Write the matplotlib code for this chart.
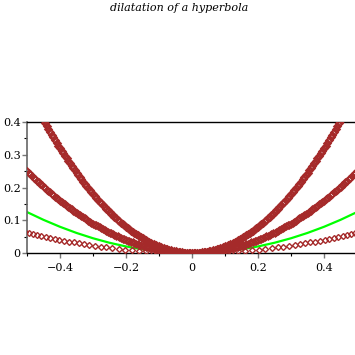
import matplotlib
matplotlib.use("Agg")
import matplotlib.pyplot as plt
from matplotlib.ticker import MultipleLocator, FixedLocator

# ---------------- data ----------------
x_fine = [
 -0.500, -0.495, -0.490, -0.485, -0.480, -0.475, -0.470, -0.465, -0.460, -0.455,
 -0.450, -0.445, -0.440, -0.435, -0.430, -0.425, -0.420, -0.415, -0.410, -0.405,
 -0.400, -0.395, -0.390, -0.385, -0.380, -0.375, -0.370, -0.365, -0.360, -0.355,
 -0.350, -0.345, -0.340, -0.335, -0.330, -0.325, -0.320, -0.315, -0.310, -0.305,
 -0.300, -0.295, -0.290, -0.285, -0.280, -0.275, -0.270, -0.265, -0.260, -0.255,
 -0.250, -0.245, -0.240, -0.235, -0.230, -0.225, -0.220, -0.215, -0.210, -0.205,
 -0.200, -0.195, -0.190, -0.185, -0.180, -0.175, -0.170, -0.165, -0.160, -0.155,
 -0.150, -0.145, -0.140, -0.135, -0.130, -0.125, -0.120, -0.115, -0.110, -0.105,
 -0.100, -0.095, -0.090, -0.085, -0.080, -0.075, -0.070, -0.065, -0.060, -0.055,
 -0.050, -0.045, -0.040, -0.035, -0.030, -0.025, -0.020, -0.015, -0.010, -0.005,
 0.000,
 0.005, 0.010, 0.015, 0.020, 0.025, 0.030, 0.035, 0.040, 0.045, 0.050,
 0.055, 0.060, 0.065, 0.070, 0.075, 0.080, 0.085, 0.090, 0.095, 0.100,
 0.105, 0.110, 0.115, 0.120, 0.125, 0.130, 0.135, 0.140, 0.145, 0.150,
 0.155, 0.160, 0.165, 0.170, 0.175, 0.180, 0.185, 0.190, 0.195, 0.200,
 0.205, 0.210, 0.215, 0.220, 0.225, 0.230, 0.235, 0.240, 0.245, 0.250,
 0.255, 0.260, 0.265, 0.270, 0.275, 0.280, 0.285, 0.290, 0.295, 0.300,
 0.305, 0.310, 0.315, 0.320, 0.325, 0.330, 0.335, 0.340, 0.345, 0.350,
 0.355, 0.360, 0.365, 0.370, 0.375, 0.380, 0.385, 0.390, 0.395, 0.400,
 0.405, 0.410, 0.415, 0.420, 0.425, 0.430, 0.435, 0.440, 0.445, 0.450,
 0.455, 0.460, 0.465, 0.470, 0.475, 0.480, 0.485, 0.490, 0.495, 0.500,
]

y_mid = [
 0.2500, 0.2450, 0.2401, 0.2352, 0.2304, 0.2256, 0.2209, 0.2162, 0.2116, 0.2070,
 0.2025, 0.1980, 0.1936, 0.1892, 0.1849, 0.1806, 0.1764, 0.1722, 0.1681, 0.1640,
 0.1600, 0.1560, 0.1521, 0.1482, 0.1444, 0.1406, 0.1369, 0.1332, 0.1296, 0.1260,
 0.1225, 0.1190, 0.1156, 0.1122, 0.1089, 0.1056, 0.1024, 0.0992, 0.0961, 0.0930,
 0.0900, 0.0870, 0.0841, 0.0812, 0.0784, 0.0756, 0.0729, 0.0702, 0.0676, 0.0650,
 0.0625, 0.0600, 0.0576, 0.0552, 0.0529, 0.0506, 0.0484, 0.0462, 0.0441, 0.0420,
 0.0400, 0.0380, 0.0361, 0.0342, 0.0324, 0.0306, 0.0289, 0.0272, 0.0256, 0.0240,
 0.0225, 0.0210, 0.0196, 0.0182, 0.0169, 0.0156, 0.0144, 0.0132, 0.0121, 0.0110,
 0.0100, 0.0090, 0.0081, 0.0072, 0.0064, 0.0056, 0.0049, 0.0042, 0.0036, 0.0030,
 0.0025, 0.0020, 0.0016, 0.0012, 0.0009, 0.0006, 0.0004, 0.0002, 0.0001, 0.0000,
 0.0000,
 0.0000, 0.0001, 0.0002, 0.0004, 0.0006, 0.0009, 0.0012, 0.0016, 0.0020, 0.0025,
 0.0030, 0.0036, 0.0042, 0.0049, 0.0056, 0.0064, 0.0072, 0.0081, 0.0090, 0.0100,
 0.0110, 0.0121, 0.0132, 0.0144, 0.0156, 0.0169, 0.0182, 0.0196, 0.0210, 0.0225,
 0.0240, 0.0256, 0.0272, 0.0289, 0.0306, 0.0324, 0.0342, 0.0361, 0.0380, 0.0400,
 0.0420, 0.0441, 0.0462, 0.0484, 0.0506, 0.0529, 0.0552, 0.0576, 0.0600, 0.0625,
 0.0650, 0.0676, 0.0702, 0.0729, 0.0756, 0.0784, 0.0812, 0.0841, 0.0870, 0.0900,
 0.0930, 0.0961, 0.0992, 0.1024, 0.1056, 0.1089, 0.1122, 0.1156, 0.1190, 0.1225,
 0.1260, 0.1296, 0.1332, 0.1369, 0.1406, 0.1444, 0.1482, 0.1521, 0.1560, 0.1600,
 0.1640, 0.1681, 0.1722, 0.1764, 0.1806, 0.1849, 0.1892, 0.1936, 0.1980, 0.2025,
 0.2070, 0.2116, 0.2162, 0.2209, 0.2256, 0.2304, 0.2352, 0.2401, 0.2450, 0.2500,
]

y_top = [
 0.4050, 0.3961, 0.3872, 0.3785, 0.3698, 0.3613, 0.3528, 0.3445, 0.3362, 0.3281,
 0.3200, 0.3121, 0.3042, 0.2965, 0.2888, 0.2813, 0.2738, 0.2665, 0.2592, 0.2521,
 0.2450, 0.2381, 0.2312, 0.2245, 0.2178, 0.2113, 0.2048, 0.1985, 0.1922, 0.1861,
 0.1800, 0.1741, 0.1682, 0.1625, 0.1568, 0.1513, 0.1458, 0.1405, 0.1352, 0.1301,
 0.1250, 0.1201, 0.1152, 0.1105, 0.1058, 0.1013, 0.0968, 0.0925, 0.0882, 0.0841,
 0.0800, 0.0761, 0.0722, 0.0685, 0.0648, 0.0613, 0.0578, 0.0545, 0.0512, 0.0481,
 0.0450, 0.0421, 0.0392, 0.0365, 0.0338, 0.0313, 0.0288, 0.0265, 0.0242, 0.0221,
 0.0200, 0.0181, 0.0162, 0.0145, 0.0128, 0.0113, 0.0098, 0.0085, 0.0072, 0.0061,
 0.0050, 0.0041, 0.0032, 0.0025, 0.0018, 0.0013, 0.0008, 0.0005, 0.0002, 0.0001,
 0.0000,
 0.0001, 0.0002, 0.0005, 0.0008, 0.0013, 0.0018, 0.0025, 0.0032, 0.0041, 0.0050,
 0.0061, 0.0072, 0.0085, 0.0098, 0.0113, 0.0128, 0.0145, 0.0162, 0.0181, 0.0200,
 0.0221, 0.0242, 0.0265, 0.0288, 0.0313, 0.0338, 0.0365, 0.0392, 0.0421, 0.0450,
 0.0481, 0.0512, 0.0545, 0.0578, 0.0613, 0.0648, 0.0685, 0.0722, 0.0761, 0.0800,
 0.0841, 0.0882, 0.0925, 0.0968, 0.1013, 0.1058, 0.1105, 0.1152, 0.1201, 0.1250,
 0.1301, 0.1352, 0.1405, 0.1458, 0.1513, 0.1568, 0.1625, 0.1682, 0.1741, 0.1800,
 0.1861, 0.1922, 0.1985, 0.2048, 0.2113, 0.2178, 0.2245, 0.2312, 0.2381, 0.2450,
 0.2521, 0.2592, 0.2665, 0.2738, 0.2813, 0.2888, 0.2965, 0.3042, 0.3121, 0.3200,
 0.3281, 0.3362, 0.3445, 0.3528, 0.3613, 0.3698, 0.3785, 0.3872, 0.3961, 0.4050,
]
x_top = x_fine[10:191]

x_low = [
 -0.5056, -0.4936, -0.4813, -0.4688, -0.4561, -0.4431, -0.4298, -0.4162, -0.4023, -0.3881,
 -0.3735, -0.3585, -0.3431, -0.3273, -0.3111, -0.2944, -0.2772, -0.2594, -0.2411, -0.2221,
 -0.2025, -0.1823, -0.1614, -0.1399, -0.1177, -0.0949, -0.0716, -0.0479, -0.0240,
 0.0000,
 0.0240, 0.0479, 0.0716, 0.0949, 0.1177, 0.1399, 0.1614, 0.1823, 0.2025, 0.2221,
 0.2411, 0.2594, 0.2772, 0.2944, 0.3111, 0.3273, 0.3431, 0.3585, 0.3735, 0.3881,
 0.4023, 0.4162, 0.4298, 0.4431, 0.4561, 0.4688, 0.4813, 0.4936, 0.5056,
]
y_low = [
 0.0639, 0.0609, 0.0579, 0.0549, 0.0520, 0.0491, 0.0462, 0.0433, 0.0405, 0.0377,
 0.0349, 0.0321, 0.0294, 0.0268, 0.0242, 0.0217, 0.0192, 0.0168, 0.0145, 0.0123,
 0.0103, 0.0083, 0.0065, 0.0049, 0.0035, 0.0023, 0.0013, 0.0006, 0.0001,
 0.0000,
 0.0001, 0.0006, 0.0013, 0.0023, 0.0035, 0.0049, 0.0065, 0.0083, 0.0103, 0.0123,
 0.0145, 0.0168, 0.0192, 0.0217, 0.0242, 0.0268, 0.0294, 0.0321, 0.0349, 0.0377,
 0.0405, 0.0433, 0.0462, 0.0491, 0.0520, 0.0549, 0.0579, 0.0609, 0.0639,
]

x_green = [-0.50, -0.45, -0.40, -0.35, -0.30, -0.25, -0.20, -0.15, -0.10, -0.05, 0.00,
           0.05, 0.10, 0.15, 0.20, 0.25, 0.30, 0.35, 0.40, 0.45, 0.50]
y_green = [0.12500, 0.10125, 0.08000, 0.06125, 0.04500, 0.03125, 0.02000, 0.01125, 0.00500, 0.00125, 0.00000,
           0.00125, 0.00500, 0.01125, 0.02000, 0.03125, 0.04500, 0.06125, 0.08000, 0.10125, 0.12500]

x_ticks_major = [-0.4, -0.2, 0.0, 0.2, 0.4]
x_tick_labels = ["\u22120.4", "\u22120.2", "0", "0.2", "0.4"]
y_ticks_major = [0.0, 0.1, 0.2, 0.3, 0.4]
y_tick_labels = ["0", "0.1", "0.2", "0.3", "0.4"]
title = "dilatation of a hyperbola"

# ---------------- drawing ----------------
W = H = 355
fig = plt.figure(figsize=(W / 100, H / 100), dpi=100)
fig.patch.set_facecolor("white")
ax = fig.add_axes([27 / W, (H - 253) / H, 330 / W, 131 / H])
ax.set_xlim(-0.5, 0.5)
ax.set_ylim(0, 0.4)

brown = "#a52a2a"
ax.plot(x_green, y_green, color="#00ff00", lw=1.6, zorder=2)
ax.plot(x_low, y_low, ls="none", marker="D", ms=3.0, mfc="none", mec=brown, mew=1.0, zorder=3)
ax.plot(x_fine, y_mid, ls="none", marker="D", ms=3.3, mfc="none", mec=brown, mew=1.3, zorder=3)
ax.plot(x_top, y_top, ls="none", marker="D", ms=3.3, mfc="none", mec=brown, mew=1.5, zorder=3)

for s in ["top", "bottom", "right"]:
    ax.spines[s].set_color("black")
    ax.spines[s].set_linewidth(1.0)
ax.spines["left"].set_color("#666666")
ax.spines["left"].set_linewidth(1.2)

ax.xaxis.set_major_locator(FixedLocator(x_ticks_major))
ax.set_xticklabels(x_tick_labels)
ax.xaxis.set_minor_locator(MultipleLocator(0.1))
ax.yaxis.set_major_locator(FixedLocator(y_ticks_major))
ax.set_yticklabels(y_tick_labels)
ax.yaxis.set_minor_locator(MultipleLocator(0.05))

ax.tick_params(which="major", direction="out", length=3.5, width=1.0, color="#777777",
               labelsize=8, pad=2, top=False, right=False)
ax.tick_params(which="minor", direction="out", length=2.2, width=0.8, color="black",
               top=False, right=False)
ax.tick_params(axis="x", which="major", pad=3.5)
ax.tick_params(axis="y", which="major", pad=1)
for lab in ax.get_xticklabels() + ax.get_yticklabels():
    lab.set_fontfamily("DejaVu Serif")

fig.text(179.5 / W, 1 - 8 / H, title, ha="center", va="center",
         fontsize=8, fontstyle="italic", family="DejaVu Serif")

fig.savefig("out.png", dpi=100)
